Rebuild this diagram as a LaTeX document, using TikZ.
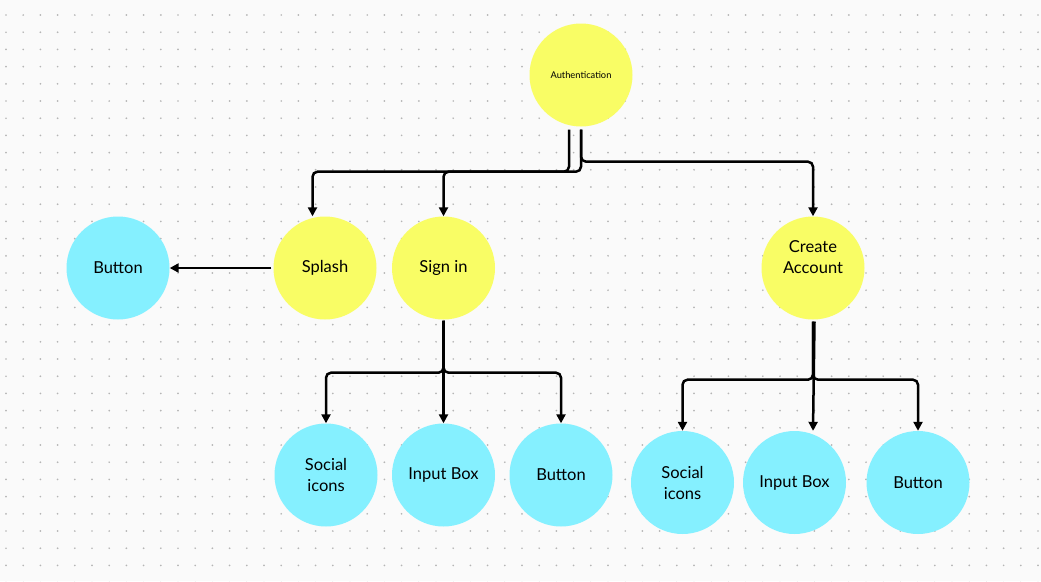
\documentclass[tikz,border=0pt]{standalone}
\usepackage{fontspec}
\setmainfont{Lato}
\usetikzlibrary{calc,arrows.meta}
\definecolor{bg}{HTML}{FAFAFA}
\definecolor{dotc}{HTML}{B5B5B5}
\definecolor{ylw}{HTML}{F9FD65}
\definecolor{cyn}{HTML}{85F0FF}
\tikzset{
  ybub/.style={circle,fill=ylw,minimum size=103pt,inner sep=0pt,align=center,font=\fontsize{16.5}{21}\selectfont},
  cbub/.style={circle,fill=cyn,minimum size=103pt,inner sep=0pt,align=center,font=\fontsize{16.5}{21}\selectfont},
  conn/.style={draw=black,line width=2.5pt,rounded corners=5pt,-{Triangle[length=9pt,width=9pt]}},
}
\begin{document}
\begin{tikzpicture}[x=1pt,y=-1pt]
\fill[bg] (0,0) rectangle (1041,581);
\useasboundingbox (0,0) rectangle (1041,581);
\foreach \i in {0,...,60} \foreach \j in {0,...,33} \fill[dotc] (6+17.2*\i,15+17.2*\j) circle (0.95pt);

\node[ybub,font=\fontsize{9.3}{11}\selectfont] (auth) at (581,75) {Authentication};
\node[ybub] (splash) at (325,268) {Splash};
\node[ybub] (signin) at (443.5,268) {Sign in};
\node[ybub] (create) at (813,268) {Create\\Account\\\mbox{}};
\node[cbub] (btnA) at (118,268) {Button};
\node[cbub] (socA) at (326,475) {Social\\icons};
\node[cbub] (inA) at (443.5,475) {Input Box};
\node[cbub] (btnB) at (561,475) {Button};
\node[cbub] (socB) at (682.5,482.5) {Social\\icons};
\node[cbub] (inB) at (794.5,482.5) {Input Box};
\node[cbub] (btnC) at (918,482.5) {Button};

% from Authentication
\draw[conn] ($(auth.south)+(-12,3)$) -- ++(0,42) -| ($(splash.north)+(-12.5,0)$);
\draw[conn] ($(auth.south)+(0,3)$) -- ++(0,42) -| (signin.north);
\draw[conn] ($(auth.south)+(0,3)$) -- ++(0,32) -| (create.north);
% Splash to Button
\draw[conn] ($(splash.west)+(-2,0)$) -- (btnA.east);
% Sign in children
\draw[conn] ($(signin.south)+(0,1)$) -- ++(0,52) -| (socA.north);
\draw[conn] ($(signin.south)+(0,1)$) -- (inA.north);
\draw[conn] ($(signin.south)+(0,1)$) -- ++(0,52) -| (btnB.north);
% Create Account children
\draw[conn] ($(create.south)+(0,2)$) -- ++(0,58) -| (socB.north);
\draw[conn] ($(create.south)+(1.5,2)$) -- ($(create.south |- inB.north)+(0,0)$);
\draw[conn] ($(create.south)+(0,2)$) -- ++(0,58) -| (btnC.north);
\end{tikzpicture}
\end{document}
